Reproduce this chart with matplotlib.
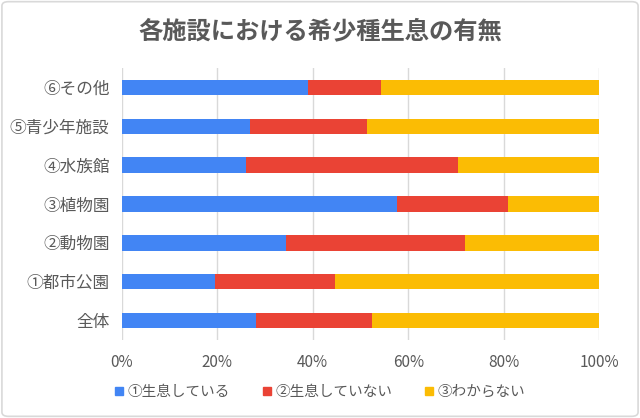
import matplotlib.pyplot as plt
import numpy as np
from matplotlib.lines import Line2D
from matplotlib.patches import FancyBboxPatch

plt.rcParams['font.family'] = ['Noto Sans CJK JP', 'DejaVu Sans']

categories = ["全体", "①都市公園", "②動物園", "③植物園", "④水族館", "⑤青少年施設", "⑥その他"]
series_names = ["①生息している", "②生息していない", "③わからない"]
living = [28.0, 19.5, 34.3, 57.7, 25.9, 26.8, 38.9]
not_living = [24.4, 25.1, 37.6, 23.2, 44.5, 24.5, 15.5]
unknown = [100 - a - b for a, b in zip(living, not_living)]
colors = ["#4285F4", "#EA4335", "#FBBC04"]
TEXT = "#595959"

W, H = 640, 418
fig = plt.figure(figsize=(6.4, 4.18), dpi=100)
fig.patches.append(FancyBboxPatch((0.003, 0.004), 0.994, 0.992,
                                  boxstyle="round,pad=0,rounding_size=0.01",
                                  transform=fig.transFigure, fill=False,
                                  edgecolor="#D9D9D9", linewidth=1.2))

ax = fig.add_axes([122 / W, 1 - 340 / H, (599 - 122) / W, (340 - 68) / H])
y = np.arange(len(categories))
left = np.zeros(len(categories))
for vals, col, name in zip([living, not_living, unknown], colors, series_names):
    ax.barh(y, vals, left=left, height=0.4, color=col, label=name, zorder=3)
    left = left + np.array(vals)

ax.set_xlim(0, 100)
ax.set_ylim(-0.5, len(categories) - 0.5)
ax.set_yticks(y)
ax.set_yticklabels(categories, fontsize=12, color=TEXT)
ax.set_xticks(np.arange(0, 101, 20))
ax.set_xticklabels([f"{v}%" for v in range(0, 101, 20)], fontsize=11, color=TEXT)
ax.tick_params(length=0)
ax.tick_params(axis='y', pad=9)
ax.tick_params(axis='x', pad=10)
ax.grid(axis='x', color="#D9D9D9", linewidth=1, zorder=0)
for s in ax.spines.values():
    s.set_visible(False)

fig.text(0.5, 1 - 31 / H, "各施設における希少種生息の有無", ha='center', va='center',
         fontsize=17.5, fontweight='bold', color=TEXT)

handles = [Line2D([], [], marker='s', linestyle='none', markersize=6,
                  markerfacecolor=c, markeredgecolor=c) for c in colors]
fig.legend(handles, series_names, loc='center', bbox_to_anchor=(0.5, 1 - 392 / H),
           ncol=3, frameon=False, fontsize=10.5, labelcolor=TEXT,
           handlelength=0.6, handletextpad=0.3, columnspacing=2.2)

fig.savefig("out.png", dpi=100)
